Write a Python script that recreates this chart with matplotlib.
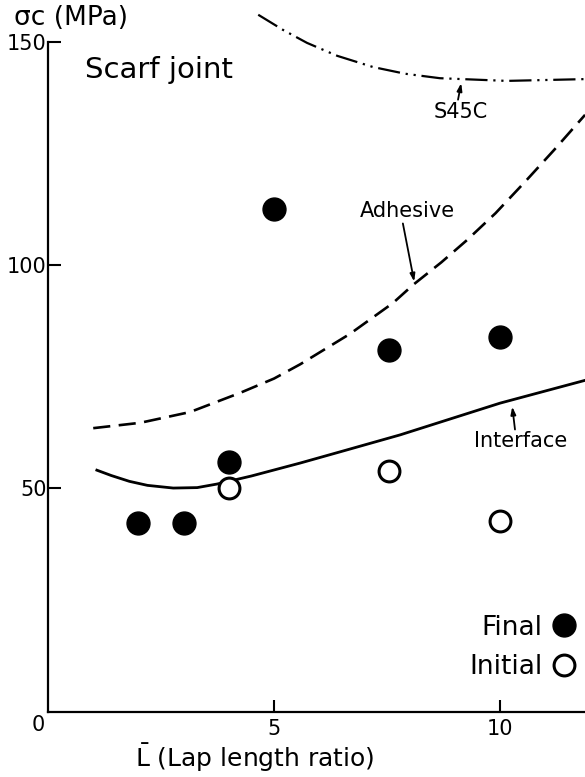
import numpy as np
import matplotlib
matplotlib.use("Agg")
import matplotlib.pyplot as plt

plt.rcParams['font.family'] = ['DejaVu Sans']
plt.rcParams['mathtext.fontset'] = 'dejavusans'

# data
final_x = [2, 3, 4, 5, 7.55, 10]
final_y = [42.3, 42.3, 56, 112.5, 81, 84]
initial_x = [4, 7.55, 10]
initial_y = [50, 54, 42.7]

interface_x = [1.08, 1.4, 1.8, 2.2, 2.77, 3.3, 3.74, 4.5, 5.58, 6.46, 7.79, 10.0, 11.88]
interface_y = [54.1, 52.9, 51.6, 50.7, 50.1, 50.2, 51.0, 52.8, 55.7, 58.2, 62.0, 69.1, 74.2]

adhesive_x = [1.0, 2.04, 3.14, 4.25, 5.0, 5.58, 6.68, 7.63, 8.08, 8.7, 9.27, 9.9, 10.55, 11.2, 11.88]
adhesive_y = [63.5, 64.7, 67.1, 71.4, 74.6, 77.8, 84.6, 91.5, 95.6, 100.6, 105.6, 111.6, 118.6, 125.8, 133.6]

s45c_x = [4.65, 5.2, 5.73, 6.4, 7.19, 7.9, 8.67, 10.15, 11.88]
s45c_y = [156, 152.6, 149.7, 146.8, 144.3, 142.8, 141.8, 141.2, 141.6]

xticks = [5, 10]
yticks = [50, 100, 150]

fig = plt.figure(figsize=(5.85, 7.77), dpi=100)
ax = fig.add_axes([0.0821, 0.0837, 0.918, 0.9163])
ax.set_xlim(0, 11.88)
ax.set_ylim(0, 159.3)

ax.plot(s45c_x, s45c_y, color='black', lw=1.6, dashes=(10, 2.6, 1, 2.6, 1, 2.6),
        clip_on=False)
ax.plot(adhesive_x, adhesive_y, color='black', lw=1.9, dashes=(6.5, 3.2))
ax.plot(interface_x, interface_y, color='black', lw=2.0)

ax.plot(final_x, final_y, 'o', color='black', ms=16.5, label='Final')
ax.plot(initial_x, initial_y, 'o', mfc='white', mec='black', mew=2.2, ms=15,
        label='Initial')

# curve labels
arr = dict(arrowstyle='-|>,head_length=0.45,head_width=0.15', color='black',
           lw=1.3, shrinkA=0, shrinkB=0)
ax.text(9.12, 134.3, 'S45C', fontsize=15, ha='center', va='center')
ax.annotate('', xy=(9.14, 140.7), xytext=(9.07, 137.0), arrowprops=arr)
ax.text(7.94, 112.0, 'Adhesive', fontsize=15, ha='center', va='center')
ax.annotate('', xy=(8.1, 96.3), xytext=(7.85, 109.3), arrowprops=arr)
ax.text(10.45, 60.6, 'Interface', fontsize=15, ha='center', va='center')
ax.annotate('', xy=(10.27, 68.3), xytext=(10.33, 63.2), arrowprops=arr)

ax.text(0.82, 143.6, 'Scarf joint', fontsize=21, ha='left', va='center')

# axes styling
for s in ['top', 'right']:
    ax.spines[s].set_visible(False)
ax.spines['left'].set_bounds(0, 150)
for s in ['left', 'bottom']:
    ax.spines[s].set_linewidth(1.6)

ax.set_xticks(xticks)
ax.set_yticks(yticks)
ax.tick_params(direction='in', length=9, width=1.5, labelsize=15)
ax.tick_params(axis='y', pad=1)
ax.tick_params(axis='x', pad=5)
ax.text(-0.019, -0.018, '0', transform=ax.transAxes, fontsize=15,
        ha='center', va='center')

ax.set_xlabel(r'$\bar{\mathrm{L}}$ (Lap length ratio)', fontsize=18, va='center')
ax.xaxis.set_label_coords(0.385, -0.064)
ax.set_ylabel('\u03c3c (MPa)', fontsize=19, rotation=0, ha='left', va='center')
ax.yaxis.set_label_coords(-0.063, 0.975)

ax.legend(loc='lower right', bbox_to_anchor=(0.985, 0.045), frameon=False,
          markerfirst=False, fontsize=19, handlelength=1.0, handletextpad=0.3,
          labelspacing=0.5, borderpad=0, borderaxespad=0)

fig.savefig('out.png', dpi=100)
